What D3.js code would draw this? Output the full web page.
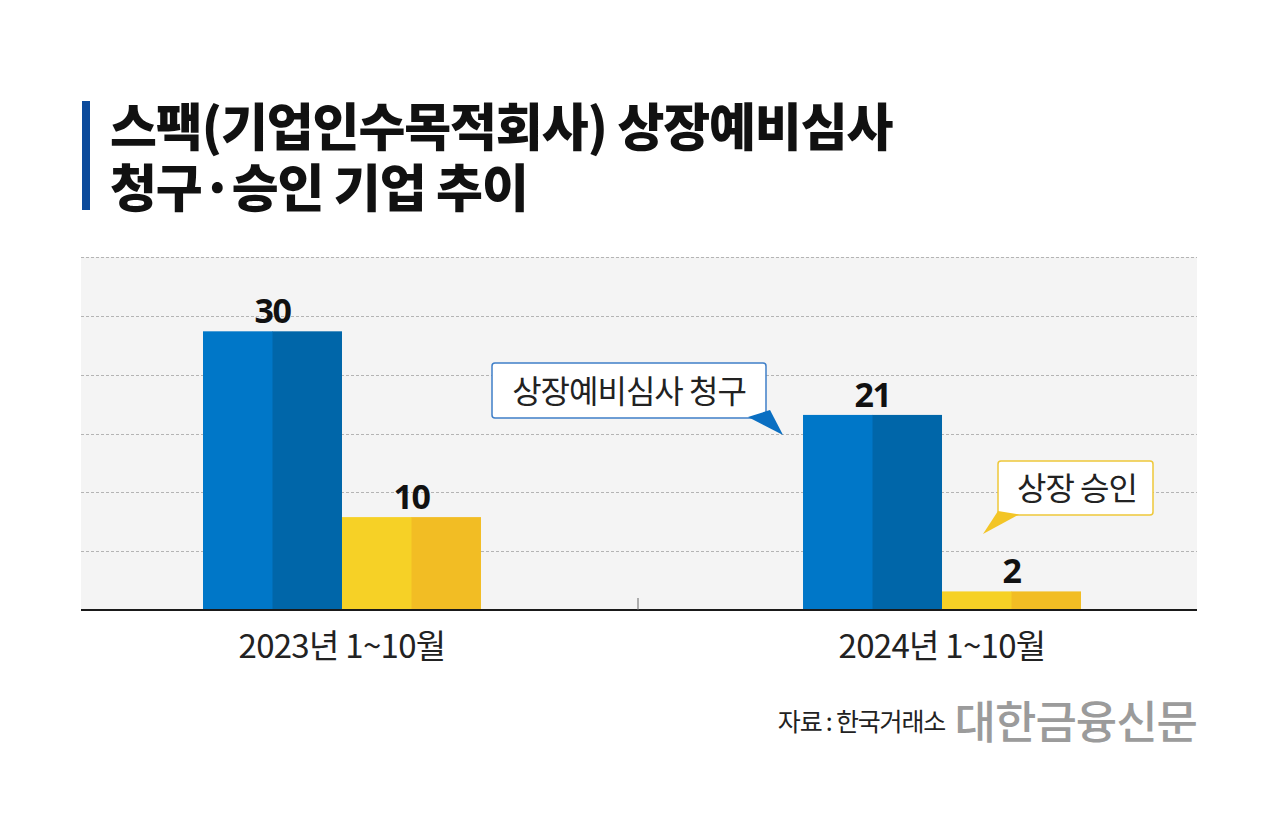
<!DOCTYPE html>
<html><head><meta charset="utf-8">
<script src="https://cdn.jsdelivr.net/npm/d3@7"></script>
<style>
html,body{margin:0;padding:0;background:#fff;}
svg{display:block;font-family:"Noto Sans CJK KR","Noto Sans",sans-serif;}
</style></head>
<body>
<svg id="chart" width="1280" height="815"></svg>
<script>
const categories = ["2023년 1~10월", "2024년 1~10월"];
const seriesNames = ["상장예비심사 청구", "상장 승인"];
const requestValues = [30, 21];
const approvalValues = [10, 2];
const titleLines = ["스팩(기업인수목적회사) 상장예비심사", "청구·승인 기업 추이"];
const sourceText = "자료 : 한국거래소";
const logoText = "대한금융신문";

const svg = d3.select("#chart");
const plot = {left: 81, right: 1197, top: 257, bottom: 610};
const yMax = 38;

const x0 = d3.scaleBand().domain(categories).range([203, 1081]).paddingInner(0.5367).paddingOuter(0);
const x1 = d3.scaleBand().domain(seriesNames).range([0, x0.bandwidth()]);
const y = d3.scaleLinear().domain([0, yMax]).range([plot.bottom, plot.top]);

const colors = {
  "상장예비심사 청구": ["#0077c8", "#0066a9"],
  "상장 승인": ["#f6d126", "#f2bd24"]
};

// Title
svg.append("rect").attr("x", 82).attr("y", 101).attr("width", 8).attr("height", 109).attr("fill", "#0b4a9b");
const title = svg.append("text").attr("x", 110).attr("y", 146)
  .attr("font-size", 51).attr("font-weight", 900).attr("letter-spacing", -1.1).attr("fill", "#111");
title.selectAll("tspan").data(titleLines).join("tspan")
  .attr("x", 110).attr("dy", (d, i) => i === 0 ? 0 : 61).text(d => d);

// Plot background
svg.append("rect").attr("x", plot.left).attr("y", plot.top)
  .attr("width", plot.right - plot.left).attr("height", plot.bottom - plot.top).attr("fill", "#f4f4f4");

// Gridlines
const gridVals = d3.range(1, 7).map(i => yMax * i / 6);
svg.append("g").selectAll("line").data(gridVals).join("line")
  .attr("x1", plot.left).attr("x2", plot.right)
  .attr("y1", d => Math.round(y(d)) + 0.5).attr("y2", d => Math.round(y(d)) + 0.5)
  .attr("stroke", "#b4b4b4").attr("stroke-width", 1).attr("stroke-dasharray", "3,2");

// Bars
const rows = categories.map((c, i) => ({cat: c, vals: [
  {s: seriesNames[0], v: requestValues[i]},
  {s: seriesNames[1], v: approvalValues[i]}
]}));
const g = svg.append("g").selectAll("g").data(rows).join("g")
  .attr("transform", d => `translate(${x0(d.cat)},0)`);
const bars = g.selectAll("g").data(d => d.vals).join("g");
bars.append("rect")
  .attr("x", d => x1(d.s)).attr("y", d => y(d.v))
  .attr("width", x1.bandwidth() / 2 + 0.5).attr("height", d => y(0) - y(d.v))
  .attr("fill", d => colors[d.s][0]);
bars.append("rect")
  .attr("x", d => x1(d.s) + x1.bandwidth() / 2).attr("y", d => y(d.v))
  .attr("width", x1.bandwidth() / 2).attr("height", d => y(0) - y(d.v))
  .attr("fill", d => colors[d.s][1]);
bars.append("text")
  .attr("x", d => x1(d.s) + x1.bandwidth() / 2).attr("y", d => y(d.v) - 8)
  .attr("text-anchor", "middle").attr("font-family", "'Noto Sans',sans-serif")
  .attr("font-size", 34).attr("font-weight", 700).attr("letter-spacing", -1.5)
  .attr("fill", "#111").text(d => d.v);

// Axis
svg.append("line").attr("x1", plot.left).attr("x2", plot.right)
  .attr("y1", plot.bottom).attr("y2", plot.bottom).attr("stroke", "#1a1a1a").attr("stroke-width", 2);
const midX = (x0(categories[0]) + x0.bandwidth() + x0(categories[1])) / 2 - 4;
svg.append("line").attr("x1", midX).attr("x2", midX).attr("y1", 598).attr("y2", 610)
  .attr("stroke", "#666").attr("stroke-width", 1);
svg.append("g").selectAll("text").data(categories).join("text")
  .attr("x", d => x0(d) + x0.bandwidth() / 2).attr("y", 658)
  .attr("text-anchor", "middle").attr("font-size", 33).attr("letter-spacing", -0.7)
  .attr("fill", "#222").text(d => d);

// Callouts
function callout(box, tail, stroke, fill, label, tx, ty) {
  const cg = svg.append("g");
  cg.append("rect").attr("x", box[0]).attr("y", box[1]).attr("width", box[2]).attr("height", box[3])
    .attr("rx", 3).attr("fill", "#fff").attr("stroke", stroke).attr("stroke-width", 1.5);
  cg.append("path").attr("d", "M" + tail.map(p => p.join(",")).join("L") + "Z").attr("fill", fill);
  cg.append("text").attr("x", tx).attr("y", ty).attr("text-anchor", "middle")
    .attr("font-size", 32).attr("letter-spacing", -1).attr("fill", "#222").text(label);
}
const bx = x0(categories[1]);
callout([492, 363, 274, 55], [[bx - 55, 417], [bx - 33, 410], [bx - 20, 435]],
  "#3f7fc8", "#0a6fc2", seriesNames[0], 629, 403);
callout([998, 461, 155, 54], [[998, 511], [1019, 514.5], [983, 534]],
  "#eec83a", "#f3c526", seriesNames[1], 1077, 500);

// Source
svg.append("text").attr("x", 945).attr("y", 731).attr("text-anchor", "end")
  .attr("font-size", 25).attr("letter-spacing", -1.2).attr("fill", "#222").text(sourceText);
svg.append("text").attr("x", 1197).attr("y", 739).attr("text-anchor", "end")
  .attr("font-size", 45).attr("font-weight", 500).attr("letter-spacing", -1)
  .attr("fill", "#9b9b9b").text(logoText);
</script>
</body></html>
